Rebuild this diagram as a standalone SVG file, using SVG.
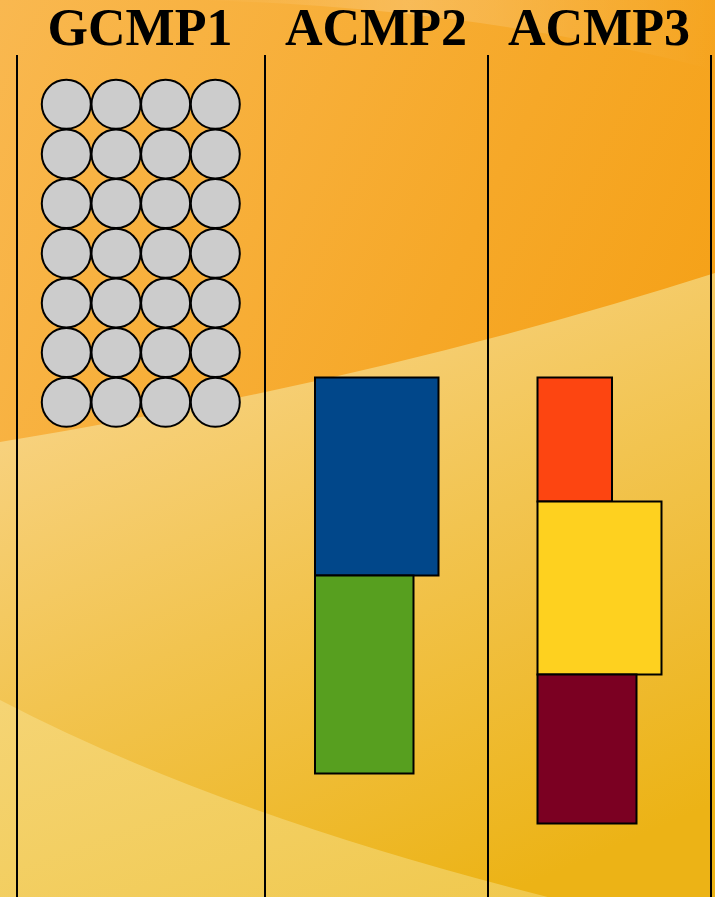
<svg xmlns="http://www.w3.org/2000/svg" width="715" height="897" viewBox="0 0 715 897">
<defs>
<linearGradient id="bg" x1="0" y1="0" x2="1" y2="0.6">
<stop offset="0" stop-color="#f9b850"/>
<stop offset="0.6" stop-color="#f6a828"/>
<stop offset="1" stop-color="#f59f12"/>
</linearGradient>
<linearGradient id="band" x1="0.2" y1="0" x2="0.7" y2="1">
<stop offset="0" stop-color="#f9d68e"/>
<stop offset="0.5" stop-color="#f2c450"/>
<stop offset="1" stop-color="#ecb316"/>
</linearGradient>
<linearGradient id="low" x1="0" y1="0" x2="1" y2="1">
<stop offset="0" stop-color="#f5d474"/>
<stop offset="1" stop-color="#f0c84c"/>
</linearGradient>
<linearGradient id="streak" x1="0" y1="0" x2="1" y2="0">
<stop offset="0" stop-color="#ffffff" stop-opacity="0"/>
<stop offset="0.4" stop-color="#ffffff" stop-opacity="0.18"/>
<stop offset="1" stop-color="#ffffff" stop-opacity="0"/>
</linearGradient>
</defs>
<style>
.title{font-family:"Liberation Serif","Times New Roman",serif;font-weight:bold;font-size:52px;fill:#000;text-anchor:middle}
.sep{stroke:#000;stroke-width:2;fill:none}
.c{fill:#cccccc;stroke:#000;stroke-width:2}
.r{stroke:#000;stroke-width:2}
</style>
<g id="background">
<rect x="0" y="0" width="715" height="897" fill="url(#bg)"/>
<path d="M200,0 Q480,8 715,70 L715,0 Z" fill="url(#streak)"/>
<path d="M0,442 Q380,380 715,273 L715,897 L0,897 Z" fill="url(#band)"/>
<path d="M0,700 Q230,820 580,905 L0,905 Z" fill="url(#low)"/>
</g>
<g id="titles">
<text class="title" x="140" y="45">GCMP1</text>
<text class="title" x="376" y="45">ACMP2</text>
<text class="title" x="599" y="45">ACMP3</text>
</g>
<g id="separators">
<line class="sep" x1="17" y1="55" x2="17" y2="897"/>
<line class="sep" x1="265" y1="55" x2="265" y2="897"/>
<line class="sep" x1="488" y1="55" x2="488" y2="897"/>
<line class="sep" x1="711" y1="55" x2="711" y2="897"/>
</g>
<g id="GCMP1">
<g id="row1"><circle class="c" cx="66.3" cy="104.3" r="24.5"/><circle class="c" cx="116" cy="104.3" r="24.5"/><circle class="c" cx="165.6" cy="104.3" r="24.5"/><circle class="c" cx="215.3" cy="104.3" r="24.5"/></g>
<g id="row2"><circle class="c" cx="66.3" cy="154" r="24.5"/><circle class="c" cx="116" cy="154" r="24.5"/><circle class="c" cx="165.6" cy="154" r="24.5"/><circle class="c" cx="215.3" cy="154" r="24.5"/></g>
<g id="row3"><circle class="c" cx="66.3" cy="203.6" r="24.5"/><circle class="c" cx="116" cy="203.6" r="24.5"/><circle class="c" cx="165.6" cy="203.6" r="24.5"/><circle class="c" cx="215.3" cy="203.6" r="24.5"/></g>
<g id="row4"><circle class="c" cx="66.3" cy="253.3" r="24.5"/><circle class="c" cx="116" cy="253.3" r="24.5"/><circle class="c" cx="165.6" cy="253.3" r="24.5"/><circle class="c" cx="215.3" cy="253.3" r="24.5"/></g>
<g id="row5"><circle class="c" cx="66.3" cy="303" r="24.5"/><circle class="c" cx="116" cy="303" r="24.5"/><circle class="c" cx="165.6" cy="303" r="24.5"/><circle class="c" cx="215.3" cy="303" r="24.5"/></g>
<g id="row6"><circle class="c" cx="66.3" cy="352.6" r="24.5"/><circle class="c" cx="116" cy="352.6" r="24.5"/><circle class="c" cx="165.6" cy="352.6" r="24.5"/><circle class="c" cx="215.3" cy="352.6" r="24.5"/></g>
<g id="row7"><circle class="c" cx="66.3" cy="402.3" r="24.5"/><circle class="c" cx="116" cy="402.3" r="24.5"/><circle class="c" cx="165.6" cy="402.3" r="24.5"/><circle class="c" cx="215.3" cy="402.3" r="24.5"/></g>
</g>
<g id="ACMP2">
<rect id="a2-blue" class="r" x="315" y="377.5" width="123.5" height="198" fill="#01478a"/>
<rect id="a2-green" class="r" x="315" y="575.5" width="98.5" height="198" fill="#579f1f"/>
</g>
<g id="ACMP3">
<rect id="a3-orange" class="r" x="537.5" y="377.5" width="74.5" height="124" fill="#fd4511"/>
<rect id="a3-yellow" class="r" x="537.5" y="501.5" width="124" height="173" fill="#fed11f"/>
<rect id="a3-maroon" class="r" x="537.5" y="674.5" width="99" height="149" fill="#7b0022"/>
</g>
</svg>
